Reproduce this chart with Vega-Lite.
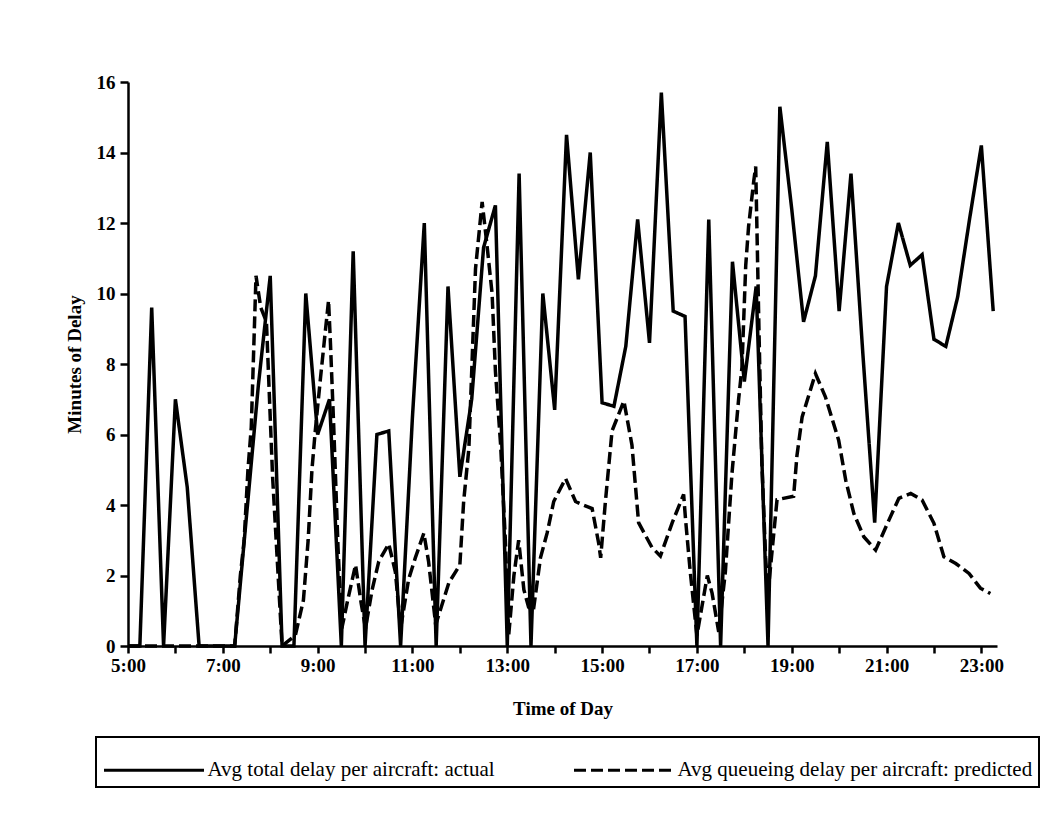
{
  "$schema": "https://vega.github.io/schema/vega-lite/v6.json",
  "width": 869,
  "height": 564,
  "autosize": {"type": "none"},
  "padding": {"left": 128, "top": 82, "right": 64, "bottom": 178},
  "background": "white",
  "config": {
    "view": {"stroke": null},
    "font": "Liberation Serif",
    "axis": {"grid": false, "domainColor": "black", "domainWidth": 2.5, "tickColor": "black", "tickWidth": 2.5, "labelColor": "black", "titleColor": "black", "labelFont": "Liberation Serif", "titleFont": "Liberation Serif", "labelFontWeight": "bold", "titleFontWeight": "bold", "labelFontSize": 19, "titleFontSize": 19},
    "legend": {"strokeWidth": 2}
  },
  "data": {
    "values": [
      {"series": "actual", "hour": 5.0, "delay": 0},
      {"series": "actual", "hour": 5.25, "delay": 0},
      {"series": "actual", "hour": 5.5, "delay": 9.6},
      {"series": "actual", "hour": 5.75, "delay": 0},
      {"series": "actual", "hour": 6.0, "delay": 7.0},
      {"series": "actual", "hour": 6.25, "delay": 4.5},
      {"series": "actual", "hour": 6.5, "delay": 0},
      {"series": "actual", "hour": 6.75, "delay": 0},
      {"series": "actual", "hour": 7.0, "delay": 0},
      {"series": "actual", "hour": 7.25, "delay": 0},
      {"series": "actual", "hour": 7.5, "delay": 3.7},
      {"series": "actual", "hour": 7.75, "delay": 7.4},
      {"series": "actual", "hour": 8.0, "delay": 10.5},
      {"series": "actual", "hour": 8.25, "delay": 0},
      {"series": "actual", "hour": 8.5, "delay": 0},
      {"series": "actual", "hour": 8.75, "delay": 10.0},
      {"series": "actual", "hour": 9.0, "delay": 6.0},
      {"series": "actual", "hour": 9.25, "delay": 7.0},
      {"series": "actual", "hour": 9.5, "delay": 0},
      {"series": "actual", "hour": 9.75, "delay": 11.2},
      {"series": "actual", "hour": 10.0, "delay": 0},
      {"series": "actual", "hour": 10.25, "delay": 6.0},
      {"series": "actual", "hour": 10.5, "delay": 6.1},
      {"series": "actual", "hour": 10.75, "delay": 0},
      {"series": "actual", "hour": 11.0, "delay": 6.5},
      {"series": "actual", "hour": 11.25, "delay": 12.0},
      {"series": "actual", "hour": 11.5, "delay": 0},
      {"series": "actual", "hour": 11.75, "delay": 10.2},
      {"series": "actual", "hour": 12.0, "delay": 4.8},
      {"series": "actual", "hour": 12.25, "delay": 7.0},
      {"series": "actual", "hour": 12.5, "delay": 11.3},
      {"series": "actual", "hour": 12.75, "delay": 12.5},
      {"series": "actual", "hour": 13.0, "delay": 0},
      {"series": "actual", "hour": 13.25, "delay": 13.4},
      {"series": "actual", "hour": 13.5, "delay": 0},
      {"series": "actual", "hour": 13.75, "delay": 10.0},
      {"series": "actual", "hour": 14.0, "delay": 6.7},
      {"series": "actual", "hour": 14.25, "delay": 14.5},
      {"series": "actual", "hour": 14.5, "delay": 10.4},
      {"series": "actual", "hour": 14.75, "delay": 14.0},
      {"series": "actual", "hour": 15.0, "delay": 6.9},
      {"series": "actual", "hour": 15.25, "delay": 6.8},
      {"series": "actual", "hour": 15.5, "delay": 8.5},
      {"series": "actual", "hour": 15.75, "delay": 12.1},
      {"series": "actual", "hour": 16.0, "delay": 8.6},
      {"series": "actual", "hour": 16.25, "delay": 15.7},
      {"series": "actual", "hour": 16.5, "delay": 9.5},
      {"series": "actual", "hour": 16.75, "delay": 9.35},
      {"series": "actual", "hour": 17.0, "delay": 0},
      {"series": "actual", "hour": 17.25, "delay": 12.1},
      {"series": "actual", "hour": 17.5, "delay": 0},
      {"series": "actual", "hour": 17.75, "delay": 10.9},
      {"series": "actual", "hour": 18.0, "delay": 7.5},
      {"series": "actual", "hour": 18.25, "delay": 10.2},
      {"series": "actual", "hour": 18.5, "delay": 0},
      {"series": "actual", "hour": 18.75, "delay": 15.3},
      {"series": "actual", "hour": 19.0, "delay": 12.4},
      {"series": "actual", "hour": 19.25, "delay": 9.2},
      {"series": "actual", "hour": 19.5, "delay": 10.5},
      {"series": "actual", "hour": 19.75, "delay": 14.3},
      {"series": "actual", "hour": 20.0, "delay": 9.5},
      {"series": "actual", "hour": 20.25, "delay": 13.4},
      {"series": "actual", "hour": 20.5, "delay": 8.3},
      {"series": "actual", "hour": 20.75, "delay": 3.5},
      {"series": "actual", "hour": 21.0, "delay": 10.2},
      {"series": "actual", "hour": 21.25, "delay": 12.0},
      {"series": "actual", "hour": 21.5, "delay": 10.8},
      {"series": "actual", "hour": 21.75, "delay": 11.1},
      {"series": "actual", "hour": 22.0, "delay": 8.7},
      {"series": "actual", "hour": 22.25, "delay": 8.5},
      {"series": "actual", "hour": 22.5, "delay": 9.9},
      {"series": "actual", "hour": 22.75, "delay": 12.1},
      {"series": "actual", "hour": 23.0, "delay": 14.2},
      {"series": "actual", "hour": 23.25, "delay": 9.5},

      {"series": "predicted", "hour": 5.0, "delay": 0},
      {"series": "predicted", "hour": 7.25, "delay": 0},
      {"series": "predicted", "hour": 7.37, "delay": 2.0},
      {"series": "predicted", "hour": 7.45, "delay": 3.0},
      {"series": "predicted", "hour": 7.53, "delay": 5.0},
      {"series": "predicted", "hour": 7.6, "delay": 6.2},
      {"series": "predicted", "hour": 7.7, "delay": 10.5},
      {"series": "predicted", "hour": 7.8, "delay": 9.6},
      {"series": "predicted", "hour": 7.92, "delay": 9.2},
      {"series": "predicted", "hour": 8.05, "delay": 4.8},
      {"series": "predicted", "hour": 8.25, "delay": 0},
      {"series": "predicted", "hour": 8.53, "delay": 0.3},
      {"series": "predicted", "hour": 8.7, "delay": 1.3},
      {"series": "predicted", "hour": 8.8, "delay": 3.0},
      {"series": "predicted", "hour": 8.88, "delay": 5.0},
      {"series": "predicted", "hour": 8.95, "delay": 6.1},
      {"series": "predicted", "hour": 9.06, "delay": 7.6},
      {"series": "predicted", "hour": 9.16, "delay": 8.9},
      {"series": "predicted", "hour": 9.23, "delay": 9.8},
      {"series": "predicted", "hour": 9.27, "delay": 8.6},
      {"series": "predicted", "hour": 9.34, "delay": 6.2},
      {"series": "predicted", "hour": 9.43, "delay": 2.8},
      {"series": "predicted", "hour": 9.51, "delay": 0.5},
      {"series": "predicted", "hour": 9.65, "delay": 1.4},
      {"series": "predicted", "hour": 9.8, "delay": 2.3},
      {"series": "predicted", "hour": 9.92, "delay": 1.2},
      {"series": "predicted", "hour": 10.01, "delay": 0.5},
      {"series": "predicted", "hour": 10.15, "delay": 1.6},
      {"series": "predicted", "hour": 10.29, "delay": 2.4},
      {"series": "predicted", "hour": 10.5, "delay": 2.9},
      {"series": "predicted", "hour": 10.64, "delay": 2.1},
      {"series": "predicted", "hour": 10.75, "delay": 0.5},
      {"series": "predicted", "hour": 10.92, "delay": 1.9},
      {"series": "predicted", "hour": 11.06, "delay": 2.5},
      {"series": "predicted", "hour": 11.24, "delay": 3.2},
      {"series": "predicted", "hour": 11.34, "delay": 2.4},
      {"series": "predicted", "hour": 11.49, "delay": 0.6},
      {"series": "predicted", "hour": 11.77, "delay": 1.8},
      {"series": "predicted", "hour": 12.0, "delay": 2.3},
      {"series": "predicted", "hour": 12.08, "delay": 4.1},
      {"series": "predicted", "hour": 12.19, "delay": 5.6},
      {"series": "predicted", "hour": 12.33, "delay": 10.7},
      {"series": "predicted", "hour": 12.47, "delay": 12.6},
      {"series": "predicted", "hour": 12.57, "delay": 11.4},
      {"series": "predicted", "hour": 12.68, "delay": 10.0},
      {"series": "predicted", "hour": 12.75, "delay": 7.8},
      {"series": "predicted", "hour": 12.86, "delay": 5.7},
      {"series": "predicted", "hour": 12.96, "delay": 3.0},
      {"series": "predicted", "hour": 13.03, "delay": 0.3},
      {"series": "predicted", "hour": 13.14, "delay": 2.0},
      {"series": "predicted", "hour": 13.24, "delay": 3.0},
      {"series": "predicted", "hour": 13.35, "delay": 1.6},
      {"series": "predicted", "hour": 13.45, "delay": 1.1},
      {"series": "predicted", "hour": 13.55, "delay": 1.0},
      {"series": "predicted", "hour": 13.7, "delay": 2.5},
      {"series": "predicted", "hour": 13.84, "delay": 3.2},
      {"series": "predicted", "hour": 13.98, "delay": 4.1},
      {"series": "predicted", "hour": 14.23, "delay": 4.75},
      {"series": "predicted", "hour": 14.44, "delay": 4.1},
      {"series": "predicted", "hour": 14.6, "delay": 4.0},
      {"series": "predicted", "hour": 14.79, "delay": 3.9},
      {"series": "predicted", "hour": 14.93, "delay": 2.9},
      {"series": "predicted", "hour": 14.97, "delay": 2.5},
      {"series": "predicted", "hour": 15.07, "delay": 4.1},
      {"series": "predicted", "hour": 15.21, "delay": 6.1},
      {"series": "predicted", "hour": 15.46, "delay": 6.95},
      {"series": "predicted", "hour": 15.63, "delay": 5.7},
      {"series": "predicted", "hour": 15.77, "delay": 3.5},
      {"series": "predicted", "hour": 16.05, "delay": 2.8},
      {"series": "predicted", "hour": 16.23, "delay": 2.55},
      {"series": "predicted", "hour": 16.48, "delay": 3.5},
      {"series": "predicted", "hour": 16.72, "delay": 4.3},
      {"series": "predicted", "hour": 16.76, "delay": 3.6},
      {"series": "predicted", "hour": 16.86, "delay": 2.1},
      {"series": "predicted", "hour": 17.0, "delay": 0.3},
      {"series": "predicted", "hour": 17.22, "delay": 2.0},
      {"series": "predicted", "hour": 17.32, "delay": 1.5},
      {"series": "predicted", "hour": 17.46, "delay": 0.4},
      {"series": "predicted", "hour": 17.6, "delay": 2.1},
      {"series": "predicted", "hour": 17.74, "delay": 4.9},
      {"series": "predicted", "hour": 17.88, "delay": 7.0},
      {"series": "predicted", "hour": 17.95, "delay": 7.9},
      {"series": "predicted", "hour": 18.03, "delay": 10.8},
      {"series": "predicted", "hour": 18.09, "delay": 11.9},
      {"series": "predicted", "hour": 18.2, "delay": 13.2},
      {"series": "predicted", "hour": 18.24, "delay": 13.6},
      {"series": "predicted", "hour": 18.31, "delay": 8.9},
      {"series": "predicted", "hour": 18.37, "delay": 5.2},
      {"series": "predicted", "hour": 18.45, "delay": 2.5},
      {"series": "predicted", "hour": 18.5, "delay": 1.5},
      {"series": "predicted", "hour": 18.69, "delay": 4.15},
      {"series": "predicted", "hour": 19.04, "delay": 4.25},
      {"series": "predicted", "hour": 19.11, "delay": 5.4},
      {"series": "predicted", "hour": 19.22, "delay": 6.5},
      {"series": "predicted", "hour": 19.5, "delay": 7.73},
      {"series": "predicted", "hour": 19.71, "delay": 7.07},
      {"series": "predicted", "hour": 19.99, "delay": 5.84},
      {"series": "predicted", "hour": 20.14, "delay": 4.7},
      {"series": "predicted", "hour": 20.31, "delay": 3.76},
      {"series": "predicted", "hour": 20.52, "delay": 3.1},
      {"series": "predicted", "hour": 20.77, "delay": 2.72},
      {"series": "predicted", "hour": 21.05, "delay": 3.57},
      {"series": "predicted", "hour": 21.26, "delay": 4.19},
      {"series": "predicted", "hour": 21.51, "delay": 4.33},
      {"series": "predicted", "hour": 21.75, "delay": 4.14},
      {"series": "predicted", "hour": 22.0, "delay": 3.48},
      {"series": "predicted", "hour": 22.21, "delay": 2.53},
      {"series": "predicted", "hour": 22.46, "delay": 2.34},
      {"series": "predicted", "hour": 22.74, "delay": 2.06},
      {"series": "predicted", "hour": 22.98, "delay": 1.64},
      {"series": "predicted", "hour": 23.19, "delay": 1.49}
    ]
  },
  "mark": {"type": "line", "color": "black", "strokeWidth": 3.5, "strokeJoin": "miter", "clip": false},
  "encoding": {
    "x": {
      "field": "hour", "type": "quantitative",
      "scale": {"domain": [5, 23.33], "nice": false, "zero": false},
      "axis": {
        "values": [5, 6, 7, 8, 9, 10, 11, 12, 13, 14, 15, 16, 17, 18, 19, 20, 21, 22, 23],
        "labelExpr": "datum.value % 2 == 1 ? datum.value + ':00' : ''",
        "title": "Time of Day", "tickSize": 7, "labelPadding": 3, "titlePadding": 24, "labelFlush": false
      }
    },
    "y": {
      "field": "delay", "type": "quantitative",
      "scale": {"domain": [0, 16], "nice": false},
      "axis": {
        "values": [0, 2, 4, 6, 8, 10, 12, 14, 16],
        "title": "Minutes of Delay", "tickSize": 8, "labelPadding": 5, "titlePadding": 12
      }
    },
    "strokeDash": {
      "field": "series", "type": "nominal",
      "scale": {"domain": ["actual", "predicted"], "range": [[1, 0], [12, 5]]},
      "legend": {
        "orient": "none", "legendX": -32, "legendY": 655, "direction": "horizontal", "columns": 2,
        "title": null, "symbolType": "M-1,0H3", "symbolSize": 2500, "symbolStrokeWidth": 3, "symbolStrokeColor": "black", "symbolFillColor": "transparent",
        "labelFont": "Liberation Serif", "labelFontSize": 21, "labelColor": "black", "labelLimit": 700, "labelOffset": 52,
        "labelExpr": "datum.label == 'actual' ? 'Avg total delay per aircraft: actual' : 'Avg queueing delay per aircraft: predicted'",
        "strokeColor": "black", "fillColor": "white", "padding": 6.5, "columnPadding": 72
      }
    }
  }
}
